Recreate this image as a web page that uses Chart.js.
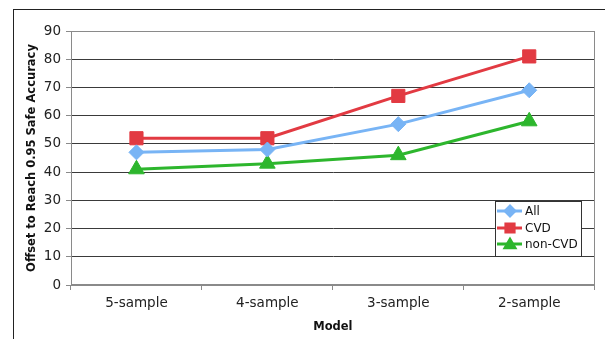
<!DOCTYPE html>
<html>
<head>
<meta charset="utf-8">
<script src="https://cdn.jsdelivr.net/npm/chart.js@4/dist/chart.umd.min.js"></script>
<style>
  html, body { margin: 0; padding: 0; background: #fff; }
  #wrap { width: 605px; height: 339px; position: relative; }
</style>
</head>
<body>
<div id="wrap"><canvas id="c" width="605" height="339"></canvas></div>
<script>
// Models along the x axis
const models = ['5-sample', '4-sample', '3-sample', '2-sample'];
// Offset needed to reach 0.95 safe accuracy, per group
const allValues = [47, 48, 57, 69];
const cvdValues = [52, 52, 67, 81];
const nonCvdValues = [41, 43, 46, 58];
// Y axis tick values
const yTicks = [0, 10, 20, 30, 40, 50, 60, 70, 80, 90];

const FONT = "'DejaVu Sans', Verdana, sans-serif";

// Outer frame and plot-area border
const framePlugin = {
  id: 'frame',
  beforeDraw(chart) {
    const ctx = chart.ctx;
    ctx.save();
    ctx.fillStyle = '#fff';
    ctx.fillRect(0, 0, chart.width, chart.height);
    ctx.strokeStyle = '#222';
    ctx.lineWidth = 1;
    ctx.strokeRect(13.5, 9.5, 800, 800);
    ctx.restore();
  },
  beforeDatasetsDraw(chart) {
    const ca = chart.chartArea;
    const ctx = chart.ctx;
    ctx.save();
    ctx.strokeStyle = '#8a8a8a';
    ctx.lineWidth = 1;
    ctx.strokeRect(Math.round(ca.left) + 0.5, Math.round(ca.top) + 0.5,
                   Math.round(ca.right - ca.left) - 1, Math.round(ca.bottom - ca.top) - 1);
    ctx.restore();
  }
};

// Boxed legend inside the plot area, lower right
const boxLegend = {
  id: 'boxLegend',
  afterDraw(chart) {
    const ca = chart.chartArea;
    const ctx = chart.ctx;
    const bx = Math.round(ca.right) - 100, by = Math.round(ca.top) + 170, bw = 86, bh = 55;
    ctx.save();
    ctx.fillStyle = '#fff';
    ctx.fillRect(bx, by, bw, bh);
    ctx.strokeStyle = '#333';
    ctx.lineWidth = 1;
    ctx.strokeRect(bx + 0.5, by + 0.5, bw, bh);
    const rows = [by + 10, by + 27, by + 43];
    const radii = { rectRot: 4.8, rect: 5.8, triangle: 5.6 };
    chart.data.datasets.forEach((ds, i) => {
      const y = rows[i];
      ctx.strokeStyle = ds.borderColor;
      ctx.lineWidth = 3;
      ctx.beginPath();
      ctx.moveTo(bx + 2, y);
      ctx.lineTo(bx + 27, y);
      ctx.stroke();
      ctx.fillStyle = ds.borderColor;
      ctx.strokeStyle = ds.borderColor;
      Chart.helpers.drawPoint(ctx, {
        pointStyle: ds.pointStyle, radius: radii[ds.pointStyle], rotation: 0, borderWidth: 1
      }, bx + 15, y + (ds.pointStyle === 'triangle' ? 1 : 0));
      ctx.fillStyle = '#111';
      ctx.font = '12px ' + FONT;
      ctx.textBaseline = 'middle';
      ctx.textAlign = 'left';
      ctx.fillText(ds.label, bx + 30, y + 1);
    });
    ctx.restore();
  }
};

const lineStyle = (label, data, color, pointStyle, radius) => ({
  label, data,
  borderColor: color,
  backgroundColor: color,
  pointBackgroundColor: color,
  pointBorderColor: color,
  pointBorderWidth: 1,
  borderWidth: 3,
  pointStyle,
  pointRadius: radius,
  tension: 0,
  clip: false
});

new Chart(document.getElementById('c'), {
  type: 'line',
  data: {
    labels: models,
    datasets: [
      lineStyle('All', allValues, '#78b4f5', 'rectRot', 7.5),
      lineStyle('CVD', cvdValues, '#e23a42', 'rect', 9.3),
      lineStyle('non-CVD', nonCvdValues, '#2db62d', 'triangle', 9)
    ]
  },
  options: {
    responsive: false,
    animation: false,
    devicePixelRatio: 1,
    layout: { padding: { left: 13, top: 31, right: 6, bottom: 0 } },
    plugins: {
      legend: { display: false },
      tooltip: { enabled: false }
    },
    scales: {
      x: {
        offset: true,
        afterFit(scale) { scale.height = 54; },
        grid: { offset: true, drawOnChartArea: false, tickLength: 5, tickColor: '#8a8a8a' },
        border: { color: '#8a8a8a' },
        ticks: { color: '#222', font: { family: FONT, size: 13.5 }, padding: 5, maxRotation: 0 },
        title: {
          display: true, text: 'Model', color: '#111',
          font: { family: FONT, size: 11.5, weight: 'bold' },
          padding: { top: 0, bottom: 5 }
        }
      },
      y: {
        min: 0, max: 90,
        afterFit(scale) { scale.width = 58; },
        afterBuildTicks(scale) { scale.ticks = yTicks.map(v => ({ value: v })); },
        grid: {
          color: c => (c.tick && (c.tick.value === 0 || c.tick.value === 90)) ? '#8a8a8a' : '#3a3a3a',
          tickLength: 5, tickColor: '#8a8a8a'
        },
        border: { color: '#8a8a8a' },
        ticks: { color: '#222', font: { family: FONT, size: 13.5 }, padding: 5 },
        title: {
          display: true, text: 'Offset to Reach 0.95 Safe Accuracy', color: '#111',
          font: { family: FONT, size: 11.5, weight: 'bold' },
          padding: { top: 12, bottom: 0 }
        }
      }
    }
  },
  plugins: [framePlugin, boxLegend]
});
</script>
</body>
</html>
